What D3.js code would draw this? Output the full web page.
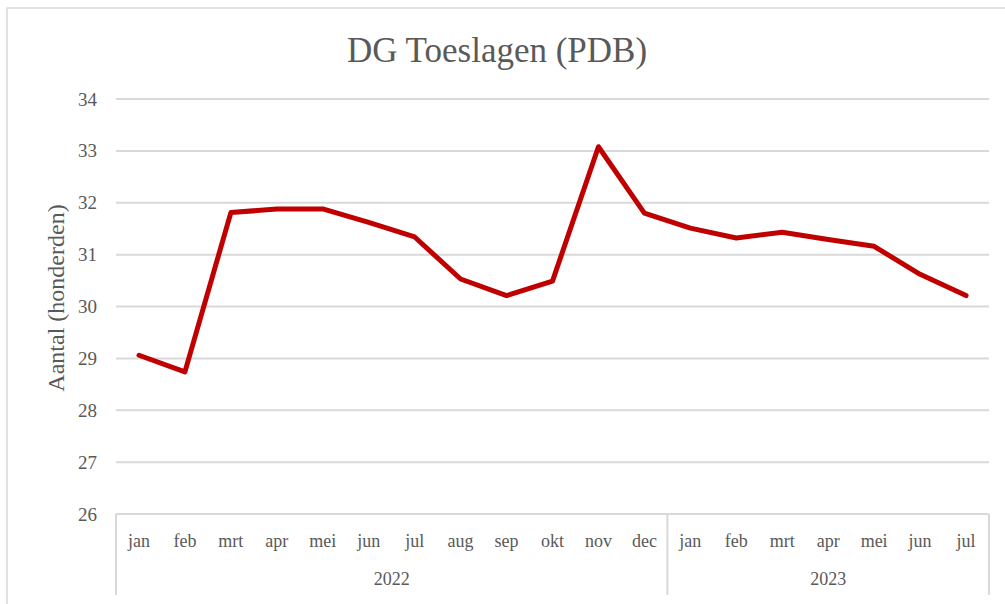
<!DOCTYPE html>
<html>
<head>
<meta charset="utf-8">
<script src="https://cdn.jsdelivr.net/npm/d3@7"></script>
<style>
  body { margin: 0; background: #fff; }
  svg text { font-family: "Liberation Serif", "DejaVu Serif", serif; fill: #595959; }
</style>
</head>
<body>
<svg id="chart" width="1005" height="604"></svg>
<script>
const months = ["jan", "feb", "mrt", "apr", "mei", "jun", "jul", "aug", "sep", "okt", "nov", "dec",
                "jan", "feb", "mrt", "apr", "mei", "jun", "jul"];
const years = [{ label: "2022", count: 12 }, { label: "2023", count: 7 }];
const values = [29.06, 28.74, 31.81, 31.88, 31.88, 31.62, 31.34, 30.53, 30.21, 30.49, 33.08, 31.80,
                31.51, 31.32, 31.43, 31.29, 31.16, 30.62, 30.21];
const yTicks = [26, 27, 28, 29, 30, 31, 32, 33, 34];

const svg = d3.select("#chart");
const plotLeft = 116, plotRight = 989, plotTop = 99, plotBottom = 514;

// outer frame
svg.append("rect")
    .attr("x", 7).attr("y", 8)
    .attr("width", 1010).attr("height", 610)
    .attr("fill", "none")
    .attr("stroke", "#d9d9d9")
    .attr("stroke-width", 1.5);

svg.append("text")
    .attr("x", 497).attr("y", 62)
    .attr("text-anchor", "middle")
    .style("font-size", "35px")
    .text("DG Toeslagen (PDB)");

const keys = months.map((m, i) => i);
const x = d3.scaleBand().domain(keys).range([plotLeft, plotRight]);
const y = d3.scaleLinear().domain([26, 34]).range([plotBottom, plotTop]);

// gridlines
svg.append("g")
    .selectAll("line")
    .data(yTicks.filter(t => t > 26))
    .enter()
    .append("line")
    .attr("x1", plotLeft).attr("x2", plotRight)
    .attr("y1", d => y(d)).attr("y2", d => y(d))
    .attr("stroke", "#d9d9d9")
    .attr("stroke-width", 2);

// y axis labels
svg.append("g")
    .attr("transform", `translate(${plotLeft},0)`)
    .call(d3.axisLeft(y).tickValues(yTicks).tickSize(0).tickPadding(19))
    .call(g => g.select(".domain").remove())
    .selectAll("text")
    .style("font-size", "19px")
    .attr("fill", "#595959");

svg.append("text")
    .attr("transform", "translate(64,298) rotate(-90)")
    .attr("text-anchor", "middle")
    .style("font-size", "24px")
    .text("Aantal (honderden)");

// category axis box
const axisBottom = 595;
svg.append("line")
    .attr("x1", plotLeft).attr("x2", plotRight)
    .attr("y1", plotBottom).attr("y2", plotBottom)
    .attr("stroke", "#d9d9d9").attr("stroke-width", 2);

let start = 0;
const bounds = [plotLeft];
years.forEach(yr => {
    start += yr.count;
    bounds.push(x(start - 1) + x.bandwidth());
});
svg.append("g")
    .selectAll("line")
    .data(bounds)
    .enter()
    .append("line")
    .attr("x1", d => d).attr("x2", d => d)
    .attr("y1", plotBottom).attr("y2", axisBottom)
    .attr("stroke", "#d9d9d9").attr("stroke-width", 2);

svg.append("g")
    .attr("transform", `translate(0,${plotBottom})`)
    .call(d3.axisBottom(x).tickFormat(i => months[i]).tickSize(0).tickPadding(20))
    .call(g => g.select(".domain").remove())
    .selectAll("text")
    .style("font-size", "18px")
    .attr("fill", "#595959");

svg.append("g")
    .selectAll("text")
    .data(years)
    .enter()
    .append("text")
    .attr("x", (d, i) => (bounds[i] + bounds[i + 1]) / 2)
    .attr("y", 585)
    .attr("text-anchor", "middle")
    .style("font-size", "18px")
    .text(d => d.label);

// series line
const line = d3.line()
    .x((d, i) => x(i) + x.bandwidth() / 2)
    .y(d => y(d));

svg.append("path")
    .datum(values)
    .attr("d", line)
    .attr("fill", "none")
    .attr("stroke", "#c00000")
    .attr("stroke-width", 5)
    .attr("stroke-linejoin", "round")
    .attr("stroke-linecap", "round");
</script>
</body>
</html>
